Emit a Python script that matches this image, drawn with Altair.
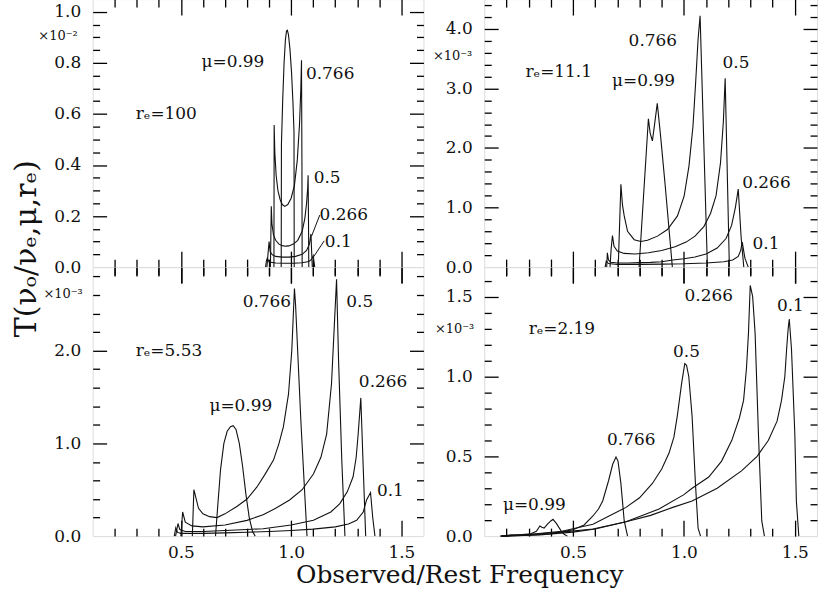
import altair as alt
import pandas as pd

FONT = "DejaVu Serif"
INK = "#111111"
TICK = "#000000"
MUS = ["0.99", "0.766", "0.5", "0.266", "0.1"]

X_DOMAIN = [0.1, 1.6]
X_MAJOR = [0.5, 1.0, 1.5]
X_TICKS = [0.2, 0.3, 0.4, 0.5, 0.6, 0.7, 0.8, 0.9, 1.0, 1.1, 1.2, 1.3, 1.4, 1.5]

# ---------- panel A : r_e = 100 (units 1e-2) ----------
A_Y_DOMAIN = [0, 1.05]
A_Y_MAJOR = [0.0, 0.2, 0.4, 0.6, 0.8, 1.0]
A_Y_TICKS = [0.05, 0.1, 0.15, 0.2, 0.25, 0.3, 0.35, 0.4, 0.45, 0.5, 0.55, 0.6, 0.65, 0.7, 0.75, 0.8, 0.85, 0.9, 0.95, 1.0]
A_099_x = [0.955, 0.956, 0.962, 0.968, 0.974, 0.979, 0.983, 0.988, 0.995, 1.002, 1.008, 1.013, 1.014]
A_099_y = [0, 0.48, 0.66, 0.80, 0.89, 0.925, 0.928, 0.91, 0.85, 0.76, 0.65, 0.53, 0]
A_0766_x = [0.922, 0.923, 0.926, 0.932, 0.94, 0.95, 0.96, 0.971, 0.985, 1.0, 1.015, 1.028, 1.038, 1.044, 1.047, 1.049, 1.05]
A_0766_y = [0, 0.557, 0.45, 0.36, 0.3, 0.265, 0.245, 0.238, 0.245, 0.27, 0.32, 0.42, 0.56, 0.7, 0.81, 0.4, 0]
A_05_x = [0.906, 0.908, 0.910, 0.913, 0.92, 0.93, 0.945, 0.96, 0.975, 0.99, 1.01, 1.03, 1.05, 1.062, 1.07, 1.075, 1.077, 1.079, 1.08]
A_05_y = [0, 0.12, 0.238, 0.17, 0.125, 0.105, 0.09, 0.084, 0.082, 0.083, 0.09, 0.105, 0.14, 0.19, 0.25, 0.31, 0.36, 0.15, 0]
A_0266_x = [0.89, 0.895, 0.9, 0.905, 0.915, 0.93, 0.96, 0.99, 1.02, 1.05, 1.07, 1.083, 1.09, 1.093, 1.096]
A_0266_y = [0, 0.05, 0.1, 0.06, 0.048, 0.042, 0.039, 0.039, 0.042, 0.05, 0.065, 0.09, 0.13, 0.06, 0]
A_01_x = [0.884, 0.888, 0.892, 0.9, 0.93, 0.97, 1.01, 1.05, 1.08, 1.093, 1.1, 1.104, 1.107]
A_01_y = [0, 0.025, 0.035, 0.02, 0.016, 0.015, 0.015, 0.017, 0.022, 0.03, 0.045, 0.02, 0]
A_LAB_T = ["μ=0.99", "0.766", "rₑ=100", "0.5", "0.266", "0.1"]
A_LAB_X = [0.736, 1.177, 0.434, 1.163, 1.239, 1.214]
A_LAB_Y = [0.805, 0.755, 0.60, 0.35, 0.203, 0.10]
A_EXP = "×10⁻²"
A_EXP_X = 0.032
A_EXP_Y = 0.906
A_LEAD_ID = ["a", "a", "b", "b"]
A_LEAD_X = [1.130, 1.092, 1.15, 1.10]
A_LEAD_Y = [0.204, 0.120, 0.103, 0.038]

# ---------- panel B : r_e = 11.1 (units 1e-3) ----------
B_Y_DOMAIN = [0, 4.5]
B_Y_MAJOR = [0.0, 1.0, 2.0, 3.0, 4.0]
B_Y_TICKS = [0.2, 0.4, 0.6, 0.8, 1.0, 1.2, 1.4, 1.6, 1.8, 2.0, 2.2, 2.4, 2.6, 2.8, 3.0, 3.2, 3.4, 3.6, 3.8, 4.0, 4.2, 4.4]
B_099_x = [0.798, 0.84, 0.848, 0.858, 0.868, 0.88, 0.895, 0.915, 0.948]
B_099_y = [0, 2.49, 2.25, 2.12, 2.4, 2.75, 2.2, 1.4, 0]
B_0766_x = [0.704, 0.716, 0.723, 0.731, 0.746, 0.776, 0.806, 0.836, 0.881, 0.926, 0.971, 1.001, 1.023, 1.041, 1.053, 1.064, 1.073, 1.106]
B_0766_y = [0, 1.39, 1.05, 0.86, 0.6, 0.46, 0.43, 0.45, 0.52, 0.63, 0.86, 1.19, 1.70, 2.37, 3.10, 3.83, 4.22, 0]
B_05_x = [0.667, 0.672, 0.678, 0.685, 0.7, 0.73, 0.78, 0.84, 0.9, 0.96, 1.01, 1.05, 1.09, 1.12, 1.145, 1.165, 1.178, 1.186, 1.196, 1.205]
B_05_y = [0, 0.3, 0.53, 0.35, 0.27, 0.23, 0.22, 0.24, 0.28, 0.34, 0.42, 0.52, 0.68, 0.9, 1.2, 1.75, 2.45, 3.17, 1.5, 0]
B_0266_x = [0.652, 0.655, 0.66, 0.67, 0.7, 0.75, 0.8, 0.85, 0.9, 0.95, 1.0, 1.05, 1.1, 1.15, 1.19, 1.215, 1.232, 1.245, 1.258, 1.27]
B_0266_y = [0, 0.24, 0.12, 0.08, 0.07, 0.07, 0.075, 0.08, 0.09, 0.12, 0.14, 0.17, 0.22, 0.32, 0.48, 0.7, 1.0, 1.31, 0.5, 0]
B_01_x = [0.645, 0.65, 0.66, 0.7, 0.8, 0.9, 1.0, 1.1, 1.18, 1.22, 1.245, 1.256, 1.263, 1.275, 1.29]
B_01_y = [0, 0.1, 0.06, 0.045, 0.045, 0.05, 0.055, 0.07, 0.09, 0.12, 0.18, 0.28, 0.42, 0.15, 0]
B_LAB_T = ["0.766", "rₑ=11.1", "μ=0.99", "0.5", "0.266", "0.1"]
B_LAB_X = [0.86, 0.436, 0.818, 1.235, 1.372, 1.37]
B_LAB_Y = [3.80, 3.27, 3.13, 3.43, 1.42, 0.38]
B_EXP = "×10⁻³"
B_EXP_X = 0.046
B_EXP_Y = 3.55

# ---------- panel C : r_e = 5.53 (units 1e-3) ----------
C_Y_DOMAIN = [0, 2.9]
C_Y_MAJOR = [0.0, 1.0, 2.0]
C_Y_TICKS = [0.2, 0.4, 0.6, 0.8, 1.0, 1.2, 1.4, 1.6, 1.8, 2.0, 2.2, 2.4, 2.6, 2.8]
C_099_x = [0.657, 0.668, 0.68, 0.695, 0.71, 0.725, 0.737, 0.75, 0.765, 0.78, 0.795, 0.81, 0.825, 0.837]
C_099_y = [0, 0.35, 0.72, 1.0, 1.13, 1.18, 1.19, 1.15, 1.0, 0.75, 0.45, 0.2, 0.05, 0]
C_0766_x = [0.552, 0.559, 0.58, 0.6, 0.63, 0.664, 0.7, 0.754, 0.8, 0.845, 0.88, 0.92, 0.945, 0.965, 0.988, 1.003, 1.015, 1.02, 1.045, 1.072]
C_0766_y = [0, 0.5, 0.3, 0.24, 0.21, 0.2, 0.24, 0.32, 0.4, 0.53, 0.66, 0.82, 1.0, 1.18, 1.53, 2.0, 2.67, 2.5, 1.2, 0]
C_05_x = [0.5, 0.508, 0.52, 0.55, 0.6, 0.7, 0.8, 0.873, 0.93, 0.993, 1.05, 1.101, 1.135, 1.161, 1.183, 1.194, 1.206, 1.215, 1.23, 1.244]
C_05_y = [0, 0.26, 0.15, 0.11, 0.1, 0.12, 0.17, 0.23, 0.3, 0.39, 0.5, 0.67, 0.85, 1.1, 1.64, 2.18, 2.77, 1.9, 0.8, 0]
C_0266_x = [0.476, 0.487, 0.495, 0.52, 0.6, 0.7, 0.8, 0.873, 1.0, 1.101, 1.18, 1.221, 1.255, 1.281, 1.295, 1.304, 1.316, 1.326, 1.338]
C_0266_y = [0, 0.136, 0.07, 0.05, 0.05, 0.06, 0.072, 0.08, 0.12, 0.17, 0.26, 0.35, 0.48, 0.64, 0.85, 1.1, 1.49, 0.8, 0]
C_01_x = [0.47, 0.477, 0.485, 0.5, 0.6, 0.7, 0.8, 0.9, 1.0, 1.1, 1.2, 1.26, 1.297, 1.327, 1.342, 1.36, 1.37, 1.38]
C_01_y = [0, 0.09, 0.04, 0.03, 0.03, 0.035, 0.042, 0.05, 0.06, 0.075, 0.1, 0.13, 0.17, 0.26, 0.39, 0.47, 0.2, 0]
C_LAB_T = ["0.766", "0.5", "rₑ=5.53", "0.266", "μ=0.99", "0.1"]
C_LAB_X = [0.89, 1.311, 0.446, 1.417, 0.772, 1.45]
C_LAB_Y = [2.52, 2.52, 2.0, 1.66, 1.40, 0.49]
C_EXP = "×10⁻³"
C_EXP_X = 0.055
C_EXP_Y = 2.61

# ---------- panel D : r_e = 2.19 (units 1e-3) ----------
D_Y_DOMAIN = [0, 1.685]
D_Y_MAJOR = [0.0, 0.5, 1.0, 1.5]
D_Y_TICKS = [0.1, 0.2, 0.3, 0.4, 0.5, 0.6, 0.7, 0.8, 0.9, 1.0, 1.1, 1.2, 1.3, 1.4, 1.5, 1.6]
D_099_x = [0.172, 0.22, 0.27, 0.31, 0.335, 0.351, 0.36, 0.37, 0.385, 0.4, 0.41, 0.425, 0.448, 0.46, 0.475]
D_099_y = [0, 0.008, 0.01, 0.015, 0.03, 0.063, 0.055, 0.05, 0.075, 0.095, 0.105, 0.08, 0.03, 0.012, 0]
D_0766_x = [0.175, 0.3, 0.4, 0.5, 0.55, 0.59, 0.615, 0.634, 0.661, 0.679, 0.694, 0.703, 0.716, 0.731, 0.746]
D_0766_y = [0, 0.005, 0.015, 0.04, 0.07, 0.126, 0.17, 0.22, 0.35, 0.45, 0.495, 0.47, 0.33, 0.095, 0]
D_05_x = [0.18, 0.3, 0.45, 0.59, 0.739, 0.8, 0.858, 0.9, 0.933, 0.955, 0.97, 0.99, 1.004, 1.012, 1.022, 1.037, 1.052, 1.064, 1.075]
D_05_y = [0, 0.01, 0.03, 0.074, 0.18, 0.24, 0.33, 0.42, 0.52, 0.62, 0.75, 0.96, 1.08, 1.07, 1.0, 0.75, 0.33, 0.05, 0]
D_0266_x = [0.18, 0.3, 0.45, 0.59, 0.739, 0.888, 1.0, 1.037, 1.112, 1.17, 1.216, 1.25, 1.269, 1.282, 1.291, 1.299, 1.31, 1.321, 1.336, 1.351, 1.363]
D_0266_y = [0, 0.01, 0.025, 0.045, 0.09, 0.17, 0.26, 0.3, 0.37, 0.47, 0.6, 0.74, 0.85, 1.05, 1.27, 1.57, 1.5, 1.27, 0.64, 0.095, 0]
D_01_x = [0.18, 0.35, 0.5, 0.6, 0.739, 0.85, 0.95, 1.037, 1.15, 1.261, 1.33, 1.381, 1.42, 1.44, 1.455, 1.463, 1.47, 1.475, 1.485, 1.5, 1.507, 1.518]
D_01_y = [0, 0.008, 0.025, 0.045, 0.09, 0.13, 0.18, 0.22, 0.3, 0.41, 0.5, 0.6, 0.72, 0.85, 1.0, 1.17, 1.3, 1.36, 1.17, 0.64, 0.22, 0]
D_LAB_T = ["0.266", "0.1", "rₑ=2.19", "0.5", "0.766", "μ=0.99"]
D_LAB_X = [1.112, 1.48, 0.45, 1.012, 0.763, 0.326]
D_LAB_Y = [1.505, 1.44, 1.30, 1.15, 0.60, 0.196]
D_EXP = "×10⁻³"
D_EXP_X = 0.055
D_EXP_Y = 1.30

Y_TITLE = "T(νₒ/νₑ,μ,rₑ)"
X_TITLE = "Observed/Rest Frequency"


def curves_df(xs_list, ys_list):
    rows = []
    for mu, xs, ys in zip(MUS, xs_list, ys_list):
        for i, (a, b) in enumerate(zip(xs, ys)):
            rows.append({"mu": mu, "i": i, "x": a, "y": b})
    return pd.DataFrame(rows)


def tsize(step, big, small):
    return {"condition": {"test": f"abs(datum.value / {step} - round(datum.value / {step})) < 0.001",
                          "value": big}, "value": small}


def panel(df, ydom, ymaj, yticks, ystep, W, H, lab_t, lab_x, lab_y, exp_t, exp_x, exp_y,
          bottom, ytitle=False, xtitle=False, leaders=None):
    xsc = alt.Scale(domain=X_DOMAIN, nice=False, zero=False)
    ysc = alt.Scale(domain=ydom, nice=False, zero=False)
    base = alt.Chart(df)

    left_kw = dict(orient="left", values=ymaj, format=".1f", ticks=False, domain=False, grid=False,
                   labelPadding=12, labelFont=FONT, labelFontSize=17, labelColor=INK, labelOverlap=False)
    if ytitle:
        left_kw.update(titleFont=FONT, titleFontSize=30, titleFontWeight="normal",
                       titleColor=INK, titleX=-57, titleY=250, titleAngle=270, titleAlign="center",
                       titleBaseline="alphabetic")
    ax_left = alt.Axis(**left_kw)

    if bottom:
        bkw = dict(orient="bottom", values=X_MAJOR, format=".1f", ticks=False, domain=False, grid=False,
                   labelPadding=8, labelFont=FONT, labelFontSize=17, labelColor=INK, labelOverlap=False,
                   labelFlush=False)
        if xtitle:
            bkw.update(titleFont=FONT, titleFontSize=25, titleFontWeight="normal",
                       titleColor=INK, titleX=368, titleY=47, titleAngle=0, titleAlign="center",
                       titleBaseline="alphabetic")
        ax_bottom = alt.Axis(**bkw)
    else:
        ax_bottom = alt.Axis(orient="bottom", values=X_TICKS, labels=False, domain=False, grid=False,
                             tickSize=tsize(0.5, 16, 9), tickColor=TICK, tickWidth=1.3)

    lines = base.mark_line(color=INK, strokeWidth=1.1).encode(
        x=alt.X("x:Q", scale=xsc, axis=ax_bottom, title=X_TITLE if xtitle else None),
        y=alt.Y("y:Q", scale=ysc, axis=ax_left, title=Y_TITLE if ytitle else None),
        detail="mu:N",
        order="i:Q",
    )

    yk_in = dict(values=yticks, labels=False, domain=False, grid=False, tickSize=tsize(ystep, 14, 7),
                 tickWidth=1.3, tickColor=TICK, offset=-W)
    xk_in = dict(values=X_TICKS, labels=False, domain=False, grid=False, tickSize=tsize(0.5, 16, 8),
                 tickWidth=1.3, tickColor=TICK, offset=-H)
    inner1 = base.mark_point(opacity=0, size=1).encode(
        x=alt.X("x:Q", scale=xsc, axis=alt.Axis(orient="top", **xk_in), title=None),
        y=alt.Y("y:Q", scale=ysc, axis=alt.Axis(orient="right", **yk_in), title=None),
    )
    inner2 = base.mark_point(opacity=0, size=1).encode(
        x=alt.X("x:Q", scale=xsc, axis=alt.Axis(orient="bottom", **xk_in), title=None),
        y=alt.Y("y:Q", scale=ysc, axis=alt.Axis(orient="left", **yk_in), title=None),
    )

    lab_df = pd.DataFrame({"t": lab_t, "x": lab_x, "y": lab_y})
    labels = alt.Chart(lab_df).mark_text(font=FONT, fontSize=17, color=INK, align="center",
                                         baseline="middle").encode(
        x=alt.X("x:Q", scale=xsc, axis=None), y=alt.Y("y:Q", scale=ysc, axis=None), text="t:N")

    exp_df = pd.DataFrame({"t": [exp_t], "x": [exp_x], "y": [exp_y]})
    expo = alt.Chart(exp_df).mark_text(font=FONT, fontSize=13, color=INK, align="right",
                                       baseline="middle").encode(
        x=alt.X("x:Q", scale=xsc, axis=None), y=alt.Y("y:Q", scale=ysc, axis=None), text="t:N")

    layers = [inner1, inner2, lines, labels, expo]
    if leaders is not None:
        lead = alt.Chart(leaders).mark_line(color=INK, strokeWidth=1).encode(
            x=alt.X("x:Q", scale=xsc, axis=None), y=alt.Y("y:Q", scale=ysc, axis=None), detail="id:N")
        layers.append(lead)

    return alt.layer(*layers).properties(width=W, height=H).resolve_axis(x="independent", y="independent")


WL, WR, HT, HB = 332, 334, 269, 270

dfA = curves_df([A_099_x, A_0766_x, A_05_x, A_0266_x, A_01_x], [A_099_y, A_0766_y, A_05_y, A_0266_y, A_01_y])
dfB = curves_df([B_099_x, B_0766_x, B_05_x, B_0266_x, B_01_x], [B_099_y, B_0766_y, B_05_y, B_0266_y, B_01_y])
dfC = curves_df([C_099_x, C_0766_x, C_05_x, C_0266_x, C_01_x], [C_099_y, C_0766_y, C_05_y, C_0266_y, C_01_y])
dfD = curves_df([D_099_x, D_0766_x, D_05_x, D_0266_x, D_01_x], [D_099_y, D_0766_y, D_05_y, D_0266_y, D_01_y])
leadA = pd.DataFrame({"id": A_LEAD_ID, "x": A_LEAD_X, "y": A_LEAD_Y})

pA = panel(dfA, A_Y_DOMAIN, A_Y_MAJOR, A_Y_TICKS, 0.2, WL, HT, A_LAB_T, A_LAB_X, A_LAB_Y,
           A_EXP, A_EXP_X, A_EXP_Y, bottom=False, ytitle=True, leaders=leadA)
pB = panel(dfB, B_Y_DOMAIN, B_Y_MAJOR, B_Y_TICKS, 1.0, WR, HT, B_LAB_T, B_LAB_X, B_LAB_Y,
           B_EXP, B_EXP_X, B_EXP_Y, bottom=False)
pC = panel(dfC, C_Y_DOMAIN, C_Y_MAJOR, C_Y_TICKS, 1.0, WL, HB, C_LAB_T, C_LAB_X, C_LAB_Y,
           C_EXP, C_EXP_X, C_EXP_Y, bottom=True, xtitle=True)
pD = panel(dfD, D_Y_DOMAIN, D_Y_MAJOR, D_Y_TICKS, 0.5, WR, HB, D_LAB_T, D_LAB_X, D_LAB_Y,
           D_EXP, D_EXP_X, D_EXP_Y, bottom=True)

grid = alt.concat(pA, pB, pC, pD, columns=2, spacing={"row": 0, "column": 61}, bounds="flush")


def finish(pad_top):
    return grid.properties(
        padding={"left": 11, "top": pad_top, "right": 0, "bottom": 0}
    ).configure_view(stroke=TICK, strokeWidth=1.2).configure(background="white")


try:
    chart = finish(-4)
    chart.save("out.html", embed_options={"renderer": "svg", "actions": False})
except Exception:
    chart = finish(0)
    chart.save("out.html", embed_options={"renderer": "svg", "actions": False})
